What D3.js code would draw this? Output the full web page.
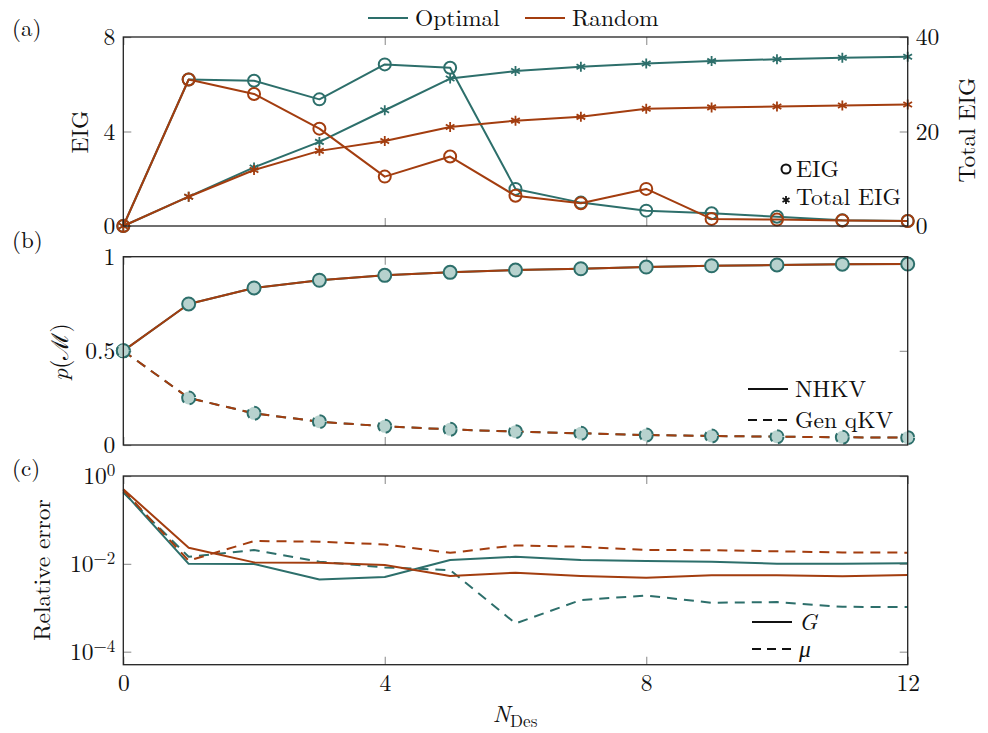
<!DOCTYPE html>
<html>
<head>
<meta charset="utf-8">
<script src="https://cdn.jsdelivr.net/npm/d3@7"></script>
<style>
  body { margin: 0; background: #fff; }
</style>
</head>
<body>
<div id="chart"></div>
<script>
// Data
const designs = [0, 1, 2, 3, 4, 5, 6, 7, 8, 9, 10, 11, 12];
const xTicks = [0, 4, 8, 12];

// (a) expected information gain per design and cumulative
const eigOptimal = [0, 6.2, 6.15, 5.36, 6.84, 6.7, 1.57, 0.99, 0.65, 0.54, 0.39, 0.24, 0.21];
const eigRandom = [0, 6.2, 5.59, 4.12, 2.09, 2.94, 1.28, 0.96, 1.57, 0.3, 0.27, 0.23, 0.21];
const totalOptimal = [0, 6.2, 12.4, 17.8, 24.5, 31.2, 32.8, 33.7, 34.4, 34.9, 35.3, 35.6, 35.8];
const totalRandom = [0, 6.2, 11.85, 15.9, 18.0, 20.95, 22.3, 23.1, 24.8, 25.1, 25.3, 25.5, 25.7];

// (b) model probabilities
const pNHKV = [0.5, 0.749, 0.834, 0.875, 0.901, 0.917, 0.929, 0.936, 0.945, 0.952, 0.956, 0.96, 0.961];
const pGenQKV = [0.5, 0.25, 0.168, 0.124, 0.099, 0.083, 0.071, 0.062, 0.053, 0.048, 0.044, 0.041, 0.039];

// (c) relative errors
const errGOptimal = [0.44, 0.01, 0.0099, 0.0044, 0.005, 0.0122, 0.0145, 0.0122, 0.0116, 0.0112, 0.0101, 0.0101, 0.0103];
const errGRandom = [0.5, 0.0233, 0.0108, 0.0106, 0.0094, 0.0053, 0.0063, 0.0053, 0.0048, 0.0055, 0.0055, 0.0052, 0.0056];
const errMuOptimal = [0.42, 0.0145, 0.0206, 0.0112, 0.0083, 0.0072, 0.00044, 0.0015, 0.0019, 0.0013, 0.00135, 0.00105, 0.00104];
const errMuRandom = [0.48, 0.0118, 0.033, 0.032, 0.0277, 0.0178, 0.0263, 0.0245, 0.0206, 0.0205, 0.0193, 0.0182, 0.018];

const teal = '#2d6f6b';
const orange = '#a33d0f';
const markFill = '#b7d2ce';
const tickGrey = '#9a9a9a';
const serif = '"Latin Modern Roman"';
const fs = 23.5;

const width = 988, height = 733;
const svg = d3.select('#chart').append('svg')
  .attr('width', width)
  .attr('height', height)
  .style('font-family', serif);

const x = d3.scaleLinear().domain([0, 12]).range([123.3, 907.7]);

const panels = {
  a: { top: 37, bottom: 226 },
  b: { top: 256.7, bottom: 445 },
  c: { top: 476, bottom: 664.7 }
};

const yEig = d3.scaleLinear().domain([0, 8]).range([panels.a.bottom, panels.a.top]);
const yTotal = d3.scaleLinear().domain([0, 40]).range([panels.a.bottom, panels.a.top]);
const yP = d3.scaleLinear().domain([0, 1]).range([panels.b.bottom, panels.b.top]);
const yErr = d3.scaleLog().domain([Math.pow(10, -4.296), 1]).range([panels.c.bottom, panels.c.top]);

function pairs(vals) {
  return designs.map((d, i) => [d, vals[i]]);
}

function styleAxis(g) {
  g.attr('font-family', null).attr('font-size', null);
  g.select('.domain').remove();
  g.selectAll('.tick line').attr('stroke', tickGrey).attr('stroke-width', 1.2);
  g.selectAll('.tick text')
    .style('font-family', serif)
    .style('font-size', fs + 'px')
    .attr('fill', '#111');
}

function xGuides(p, withLabels) {
  // inner x ticks on bottom and top of each panel
  svg.append('g')
    .attr('transform', `translate(0,${p.bottom})`)
    .call(d3.axisBottom(x).tickValues(xTicks).tickSize(-8).tickPadding(10)
      .tickFormat(withLabels ? d3.format('d') : ''))
    .call(styleAxis);
  svg.append('g')
    .attr('transform', `translate(0,${p.top})`)
    .call(d3.axisTop(x).tickValues(xTicks).tickSize(-8).tickFormat(''))
    .call(styleAxis);
}

function frame(p) {
  svg.append('rect')
    .attr('x', x.range()[0])
    .attr('y', p.top)
    .attr('width', x.range()[1] - x.range()[0])
    .attr('height', p.bottom - p.top)
    .attr('fill', 'none')
    .attr('stroke', '#222')
    .attr('stroke-width', 1.3);
}

function drawLine(data, y, color, dashed) {
  const line = d3.line().x(d => x(d[0])).y(d => y(d[1]));
  return svg.append('path')
    .datum(data)
    .attr('fill', 'none')
    .attr('stroke', color)
    .attr('stroke-width', 2)
    .attr('stroke-linejoin', 'round')
    .attr('stroke-dasharray', dashed ? '10,7' : null)
    .attr('d', line);
}

function drawCircles(data, y, color, fill, r, dashed) {
  svg.append('g').selectAll('circle')
    .data(data)
    .enter()
    .append('circle')
    .attr('cx', d => x(d[0]))
    .attr('cy', d => y(d[1]))
    .attr('r', r)
    .attr('fill', fill)
    .attr('stroke', color)
    .attr('stroke-width', 2)
    .attr('stroke-dasharray', dashed ? '9,6' : null);
}

const star = d3.symbol().type(d3.symbolAsterisk).size(70);

function drawStars(data, y, color) {
  svg.append('g').selectAll('path')
    .data(data)
    .enter()
    .append('path')
    .attr('transform', d => `translate(${x(d[0])},${y(d[1])})`)
    .attr('d', star)
    .attr('fill', 'none')
    .attr('stroke', color)
    .attr('stroke-width', 1.8);
}

// ---------- Panel (a) ----------
xGuides(panels.a, false);
svg.append('g')
  .attr('transform', `translate(${x.range()[0]},0)`)
  .call(d3.axisLeft(yEig).tickValues([0, 4, 8]).tickSize(-8).tickPadding(8))
  .call(styleAxis);
svg.append('g')
  .attr('transform', `translate(${x.range()[1]},0)`)
  .call(d3.axisRight(yTotal).tickValues([0, 20, 40]).tickSize(-8).tickPadding(8))
  .call(styleAxis);

drawLine(pairs(totalOptimal), yTotal, teal);
drawStars(pairs(totalOptimal), yTotal, teal);
drawLine(pairs(eigOptimal), yEig, teal);
drawCircles(pairs(eigOptimal), yEig, teal, 'none', 6);
drawLine(pairs(totalRandom), yTotal, orange);
drawStars(pairs(totalRandom), yTotal, orange);
drawLine(pairs(eigRandom), yEig, orange);
drawCircles(pairs(eigRandom), yEig, orange, 'none', 6);
frame(panels.a);

// ---------- Panel (b) ----------
xGuides(panels.b, false);
svg.append('g')
  .attr('transform', `translate(${x.range()[0]},0)`)
  .call(d3.axisLeft(yP).tickValues([0, 0.5, 1]).tickSize(-8).tickPadding(8).tickFormat(d3.format('')))
  .call(styleAxis);
svg.append('g')
  .attr('transform', `translate(${x.range()[1]},0)`)
  .call(d3.axisRight(yP).tickValues([0.5]).tickSize(-8).tickFormat(''))
  .call(styleAxis);

drawLine(pairs(pNHKV), yP, teal);
drawLine(pairs(pGenQKV), yP, teal, true);
drawLine(pairs(pNHKV), yP, orange);
drawLine(pairs(pGenQKV), yP, orange, true);
drawCircles(pairs(pNHKV), yP, teal, markFill, 6.5);
drawCircles(pairs(pGenQKV), yP, teal, markFill, 6.5, true);
frame(panels.b);

// ---------- Panel (c) ----------
xGuides(panels.c, true);
const errTicks = [1, 1e-2, 1e-4];
const leftErr = svg.append('g')
  .attr('transform', `translate(${x.range()[0]},0)`)
  .call(d3.axisLeft(yErr).tickValues(errTicks).tickSize(-8).tickPadding(8).tickFormat(''))
  .call(styleAxis);
leftErr.selectAll('.tick text').each(function(d) {
  const t = d3.select(this);
  const p = Math.round(Math.log10(d));
  t.append('tspan').text('10');
  t.append('tspan')
    .attr('dy', '-0.45em')
    .style('font-size', '17px')
    .text(p === 0 ? '0' : '\u2212' + Math.abs(p));
});
svg.append('g')
  .attr('transform', `translate(${x.range()[1]},0)`)
  .call(d3.axisRight(yErr).tickValues(errTicks).tickSize(-8).tickFormat(''))
  .call(styleAxis);

drawLine(pairs(errGOptimal), yErr, teal);
drawLine(pairs(errMuOptimal), yErr, teal, true);
drawLine(pairs(errGRandom), yErr, orange);
drawLine(pairs(errMuRandom), yErr, orange, true);
frame(panels.c);

// ---------- Labels ----------
function label(txt, px, py, opts = {}) {
  const t = svg.append('text')
    .attr('x', px)
    .attr('y', py)
    .attr('text-anchor', opts.anchor || 'start')
    .style('font-family', serif)
    .style('font-size', (opts.size || fs) + 'px')
    .attr('fill', '#111')
    .text(txt);
  if (opts.rotate) t.attr('transform', `rotate(-90,${px},${py})`);
  return t;
}

label('(a)', 12, 36, { size: 23 });
label('(b)', 12, 248, { size: 23 });
label('(c)', 12, 476, { size: 23 });

label('EIG', 88, 132, { anchor: 'middle', rotate: true });
label('Total EIG', 975, 130, { anchor: 'middle', rotate: true });
label('Relative error', 50, 570, { anchor: 'middle', rotate: true });

const pm = label('', 68, 352, { anchor: 'middle', rotate: true });
pm.append('tspan').style('font-style', 'italic').text('p');
pm.append('tspan').text('(');
pm.append('tspan').text('\u2133');
pm.append('tspan').text(')');

const nl = label('', 515, 722, { anchor: 'middle' });
nl.append('tspan').style('font-style', 'italic').text('N');
nl.append('tspan').attr('dy', 5).style('font-size', '17px').text('Des');

// top legend
const legendTop = [
  { name: 'Optimal', color: teal, x0: 368 },
  { name: 'Random', color: orange, x0: 525 }
];
legendTop.forEach(d => {
  svg.append('line')
    .attr('x1', d.x0).attr('x2', d.x0 + 40)
    .attr('y1', 18).attr('y2', 18)
    .attr('stroke', d.color).attr('stroke-width', 2.2);
  label(d.name, d.x0 + 47, 26);
});

// panel (a) marker legend
svg.append('circle')
  .attr('cx', 786).attr('cy', 169).attr('r', 4.5)
  .attr('fill', 'none').attr('stroke', '#111').attr('stroke-width', 2);
label('EIG', 796, 177);
svg.append('path')
  .attr('transform', 'translate(786,200)')
  .attr('d', d3.symbol().type(d3.symbolAsterisk).size(45))
  .attr('fill', 'none').attr('stroke', '#111').attr('stroke-width', 1.8);
label('Total EIG', 796, 205);

// panel (b) and (c) style legends
function styleLegend(items) {
  items.forEach(d => {
    svg.append('line')
      .attr('x1', d.x0).attr('x2', d.x0 + 40)
      .attr('y1', d.y).attr('y2', d.y)
      .attr('stroke', '#111').attr('stroke-width', 2)
      .attr('stroke-dasharray', d.dashed ? '9,6' : null);
    const t = label(d.name, d.x0 + 47, d.y + 8);
    if (d.italic) t.style('font-style', 'italic');
  });
}
styleLegend([
  { name: 'NHKV', x0: 748, y: 389 },
  { name: 'Gen qKV', x0: 748, y: 420, dashed: true }
]);
styleLegend([
  { name: 'G', x0: 752, y: 622, italic: true },
  { name: '\u03bc', x0: 752, y: 649, dashed: true, italic: true }
]);
</script>
</body>
</html>
